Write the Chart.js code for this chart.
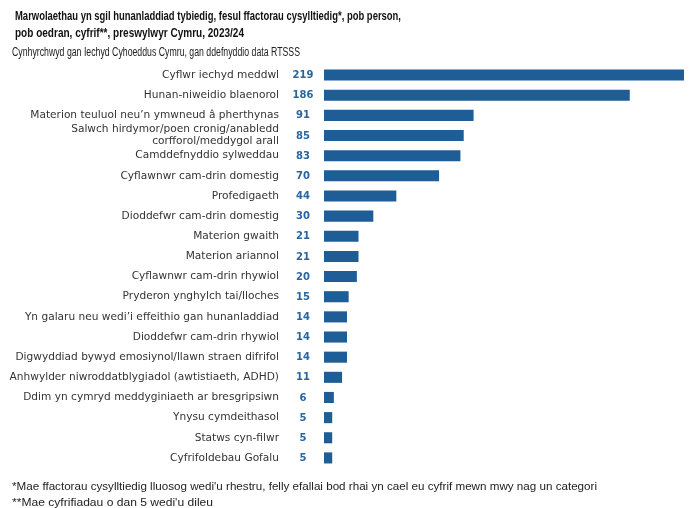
<!DOCTYPE html>
<html>
<head>
<meta charset="utf-8">
<script src="https://cdn.jsdelivr.net/npm/chart.js@4"></script>
<style>
  html, body { margin:0; padding:0; background:#fff; }
  #wrap { position:relative; width:689px; height:508px; overflow:hidden; }
  .t { position:absolute; white-space:nowrap; transform-origin:left top; color:#111; font-family:"Liberation Sans", Arial, sans-serif; }
  #title1, #title2 { font-weight:bold; font-size:13px; left:15px; }
  #title1 { top:8px; }
  #title2 { top:25px; }
  #sub { font-size:12px; top:45px; left:12px; color:#222; }
  #fn1 { font-size:11px; top:480px; left:12px; color:#222; }
  #fn2 { font-size:11px; top:496px; left:12px; color:#222; }
  canvas { position:absolute; left:0; top:0; }
</style>
</head>
<body>
<div id="wrap">
  <canvas id="c" width="689" height="508"></canvas>
  <div class="t" id="title1">Marwolaethau yn sgil hunanladdiad tybiedig, fesul ffactorau cysylltiedig*, pob person,</div>
  <div class="t" id="title2">pob oedran, cyfrif**, preswylwyr Cymru, 2023/24</div>
  <div class="t" id="sub">Cynhyrchwyd gan Iechyd Cyhoeddus Cymru, gan ddefnyddio data RTSSS</div>
  <div class="t" id="fn1">*Mae ffactorau cysylltiedig lluosog wedi'u rhestru, felly efallai bod rhai yn cael eu cyfrif mewn mwy nag un categori</div>
  <div class="t" id="fn2">**Mae cyfrifiadau o dan 5 wedi'u dileu</div>
</div>
<script>
const categories = [
  "Cyflwr iechyd meddwl",
  "Hunan-niweidio blaenorol",
  "Materion teuluol neu\u2019n ymwneud \u00e2 pherthynas",
  ["Salwch hirdymor/poen cronig/anabledd", "corfforol/meddygol arall"],
  "Camddefnyddio sylweddau",
  "Cyflawnwr cam-drin domestig",
  "Profedigaeth",
  "Dioddefwr cam-drin domestig",
  "Materion gwaith",
  "Materion ariannol",
  "Cyflawnwr cam-drin rhywiol",
  "Pryderon ynghylch tai/lloches",
  "Yn galaru neu wedi\u2019i effeithio gan hunanladdiad",
  "Dioddefwr cam-drin rhywiol",
  "Digwyddiad bywyd emosiynol/llawn straen difrifol",
  "Anhwylder niwroddatblygiadol (awtistiaeth, ADHD)",
  "Ddim yn cymryd meddyginiaeth ar bresgripsiwn",
  "Ynysu cymdeithasol",
  "Statws cyn-filwr",
  "Cyfrifoldebau Gofalu"
];
const counts = [219, 186, 91, 85, 83, 70, 44, 30, 21, 21, 20, 15, 14, 14, 14, 11, 6, 5, 5, 5];

const valueLabels = {
  id: 'valueLabels',
  afterDatasetsDraw(chart) {
    const ctx = chart.ctx;
    const meta = chart.getDatasetMeta(0);
    const x = chart.chartArea.left - 21;
    ctx.save();
    ctx.font = 'bold 10px "DejaVu Sans", Verdana, sans-serif';
    ctx.fillStyle = '#2a659e';
    ctx.textAlign = 'center';
    ctx.textBaseline = 'middle';
    meta.data.forEach((bar, i) => {
      ctx.fillText(String(counts[i]), x, bar.y + 0.5);
    });
    ctx.restore();
  }
};

new Chart(document.getElementById('c'), {
  type: 'bar',
  data: {
    labels: categories,
    datasets: [{
      data: counts,
      backgroundColor: '#1f5d96',
      borderWidth: 0,
      barPercentage: 0.55,
      categoryPercentage: 1.0
    }]
  },
  options: {
    indexAxis: 'y',
    responsive: false,
    animation: false,
    layout: { padding: { top: 65, bottom: 40, left: 0, right: 5 } },
    plugins: { legend: { display: false }, tooltip: { enabled: false } },
    scales: {
      x: { display: false, min: 0, max: 219 },
      y: {
        afterFit(scale) { scale.width = 324; scale.paddingTop = 0; scale.paddingBottom = 0; },
        grid: { display: false, drawTicks: false },
        border: { display: false },
        ticks: {
          padding: 45,
          color: '#333',
          font: { family: '"DejaVu Sans", Verdana, sans-serif', size: 10.6, lineHeight: 1.1 },
          autoSkip: false
        }
      }
    }
  },
  plugins: [valueLabels]
});

function fit(id, w) {
  const el = document.getElementById(id);
  const cw = el.getBoundingClientRect().width;
  el.style.transform = 'scaleX(' + (w / cw) + ')';
}
fit('title1', 386);
fit('title2', 229);
fit('sub', 288);
fit('fn1', 585);
fit('fn2', 201);
</script>
</body>
</html>
